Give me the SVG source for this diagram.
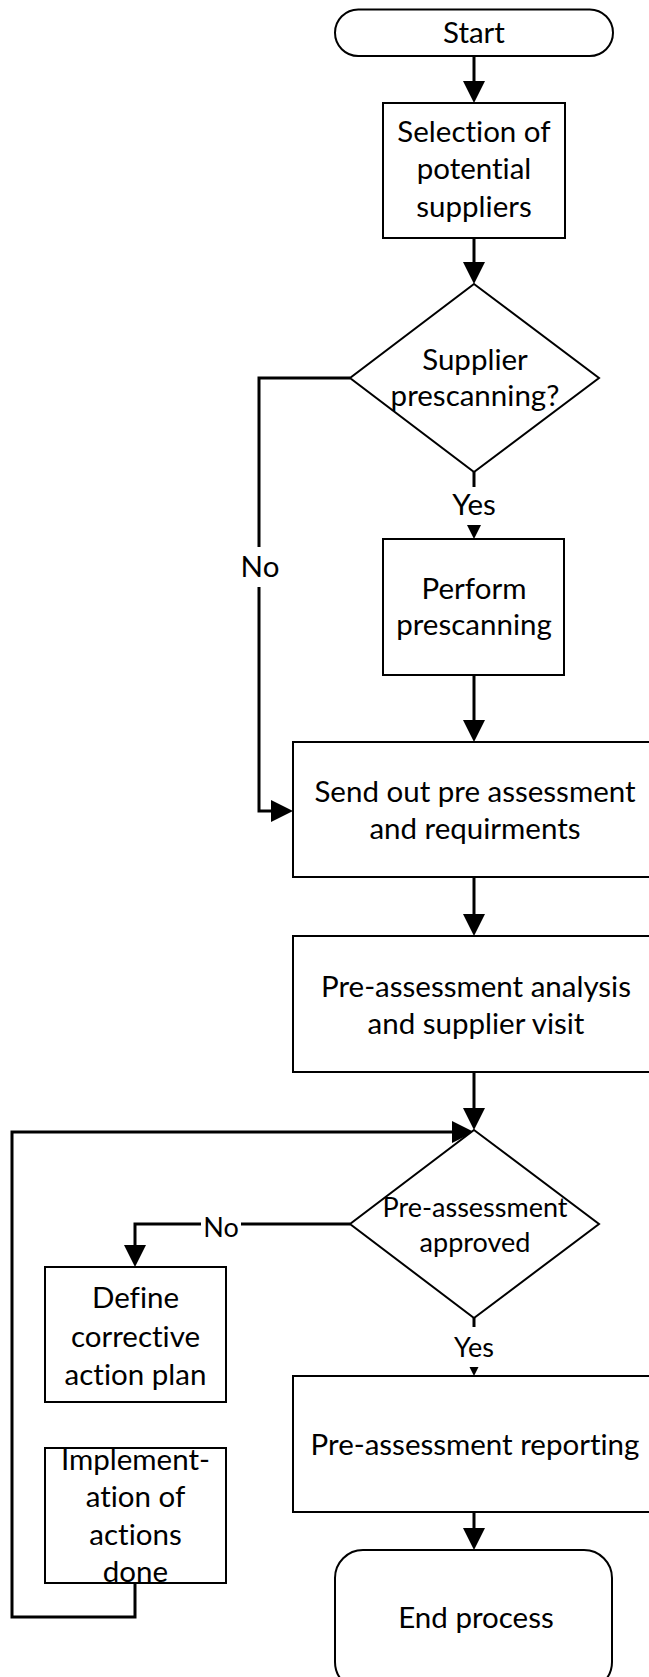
<svg xmlns="http://www.w3.org/2000/svg" width="649" height="1677" viewBox="0 0 649 1677">
  <style>
    .node { fill: #ffffff; stroke: #000000; stroke-width: 2; }
    .conn { fill: none; stroke: #000000; stroke-width: 3; }
    .t { font-family: Lato, "Liberation Sans", sans-serif; font-size: 29.5px; fill: #000000; text-anchor: middle; font-variant-ligatures: none; }
    .s { font-size: 27px; }
    .lbl { fill: #ffffff; stroke: none; }
  </style>
  <defs>
    <marker id="arrow" viewBox="0 0 22 22" refX="0" refY="11" markerWidth="22" markerHeight="22" markerUnits="userSpaceOnUse" orient="auto">
      <path d="M0,0 L22,11 L0,22 Z" fill="#000000"/>
    </marker>
  </defs>
  <rect width="649" height="1677" fill="#ffffff"/>

  <g id="connectors">
    <path class="conn" d="M474,56 V81" marker-end="url(#arrow)"/>
    <path class="conn" d="M474,238 V262" marker-end="url(#arrow)"/>
    <path class="conn" d="M350,378 H259 V811 H271" marker-end="url(#arrow)"/>
    <path class="conn" d="M474,472 V517" marker-end="url(#arrow)"/>
    <path class="conn" d="M474,675 V720" marker-end="url(#arrow)"/>
    <path class="conn" d="M474,877 V914" marker-end="url(#arrow)"/>
    <path class="conn" d="M474,1072 V1108" marker-end="url(#arrow)"/>
    <path class="conn" d="M350,1224 H135 V1245" marker-end="url(#arrow)"/>
    <path class="conn" d="M474,1318 V1354" marker-end="url(#arrow)"/>
    <path class="conn" d="M474,1512 V1528" marker-end="url(#arrow)"/>
    <path class="conn" d="M135,1583 V1617 H12 V1132 H452" marker-end="url(#arrow)"/>
    <g id="labels">
      <rect class="lbl" x="241" y="547" width="38" height="40"/>
      <text class="t" x="260" y="577">No</text>
      <rect class="lbl" x="451" y="487" width="46" height="38"/>
      <text class="t" x="474" y="515">Yes</text>
      <rect class="lbl" x="201" y="1210" width="40" height="32"/>
      <text class="t s" x="221" y="1237">No</text>
      <rect class="lbl" x="451" y="1327" width="46" height="40"/>
      <text class="t s" x="474" y="1357">Yes</text>
    </g>
  </g>

  <g id="start">
    <rect class="node" x="335" y="9.5" width="278" height="46.5" rx="23.25"/>
    <text class="t" x="474" y="43">Start</text>
  </g>
  <g id="selection">
    <rect class="node" x="383" y="103" width="182" height="135"/>
    <text class="t" x="474" y="142">Selection of</text>
    <text class="t" x="474" y="179">potential</text>
    <text class="t" x="474" y="217">suppliers</text>
  </g>
  <g id="decision-prescanning">
    <polygon class="node" points="474,284 599,378 474,472 350,378"/>
    <text class="t" x="475" y="370">Supplier</text>
    <text class="t" x="475" y="406">prescanning?</text>
  </g>
  <g id="perform-prescanning">
    <rect class="node" x="383" y="539" width="181" height="136"/>
    <text class="t" x="474" y="599">Perform</text>
    <text class="t" x="474" y="635">prescanning</text>
  </g>
  <g id="send-out">
    <rect class="node" x="293" y="742" width="362" height="135"/>
    <text class="t" x="475" y="802">Send out pre assessment</text>
    <text class="t" x="475" y="839">and requirments</text>
  </g>
  <g id="analysis">
    <rect class="node" x="293" y="936" width="362" height="136"/>
    <text class="t" x="476" y="997">Pre-assessment analysis</text>
    <text class="t" x="476" y="1034">and supplier visit</text>
  </g>
  <g id="decision-approved">
    <polygon class="node" points="474,1130 599,1224 474,1318 350,1224"/>
    <text class="t s" x="475" y="1217">Pre-assessment</text>
    <text class="t s" x="475" y="1252">approved</text>
  </g>
  <g id="corrective-plan">
    <rect class="node" x="45" y="1267" width="181" height="135"/>
    <text class="t" x="135.5" y="1308">Define</text>
    <text class="t" x="135.5" y="1347">corrective</text>
    <text class="t" x="135.5" y="1385">action plan</text>
  </g>
  <g id="implementation">
    <rect class="node" x="45" y="1448" width="181" height="135"/>
    <text class="t" x="135.5" y="1470">Implement-</text>
    <text class="t" x="135.5" y="1507">ation of</text>
    <text class="t" x="135.5" y="1545">actions</text>
    <text class="t" x="135.5" y="1582">done</text>
  </g>
  <g id="reporting">
    <rect class="node" x="293" y="1376" width="362" height="136"/>
    <text class="t" x="475" y="1455">Pre-assessment reporting</text>
  </g>
  <g id="end">
    <rect class="node" x="335" y="1550" width="277" height="140" rx="28"/>
    <text class="t" x="476" y="1628">End process</text>
  </g>
</svg>
